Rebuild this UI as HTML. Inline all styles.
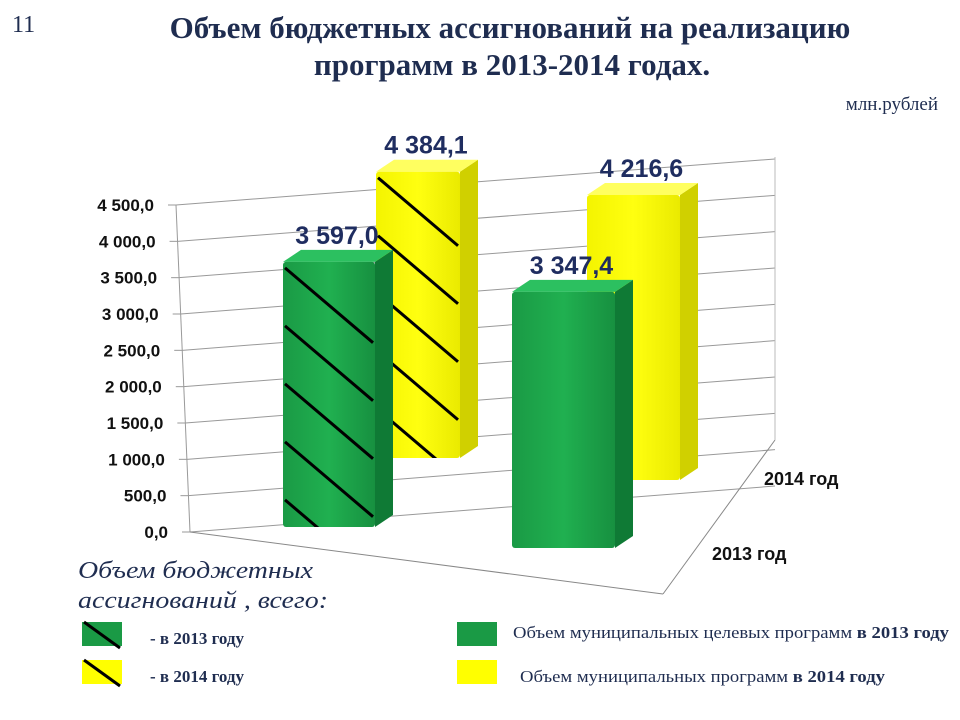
<!DOCTYPE html>
<html><head><meta charset="utf-8"><style>
body{margin:0;background:#fff;width:960px;height:720px;overflow:hidden}
svg{display:block}
.t{font-family:"Liberation Serif",serif}
.s{font-family:"Liberation Sans",sans-serif}
</style></head><body>
<svg width="960" height="720" viewBox="0 0 960 720">
<defs>
<linearGradient id="gG" x1="0" x2="1"><stop offset="0" stop-color="#1a9a45"/><stop offset="0.5" stop-color="#20b050"/><stop offset="1" stop-color="#179040"/></linearGradient>
<linearGradient id="gY" x1="0" x2="1"><stop offset="0" stop-color="#f4f400"/><stop offset="0.5" stop-color="#ffff10"/><stop offset="1" stop-color="#eaea00"/></linearGradient>
</defs>
<text class="t" x="12" y="32" font-size="24" fill="#1f2d50">11</text>
<text class="t" x="510" y="38" font-size="31" font-weight="bold" fill="#1f2d50" text-anchor="middle">Объем бюджетных ассигнований на реализацию</text>
<text class="t" x="512" y="75" font-size="31" font-weight="bold" fill="#1f2d50" text-anchor="middle">программ в 2013-2014 годах.</text>
<text class="t" x="938" y="110" font-size="19" fill="#1f2d50" text-anchor="end">млн.рублей</text>
<g id="grid"></g>
<g id="bars"></g>
<g id="labels"></g>
<text class="s" x="764" y="485" font-size="18" font-weight="bold" fill="#111">2014 год</text>
<text class="s" x="712" y="560" font-size="18" font-weight="bold" fill="#111">2013 год</text>

<text class="t" x="78" y="578" font-size="24" font-style="italic" fill="#1f2d50" textLength="235" lengthAdjust="spacingAndGlyphs">Объем бюджетных</text>
<text class="t" x="78" y="608" font-size="24" font-style="italic" fill="#1f2d50" textLength="250" lengthAdjust="spacingAndGlyphs">ассигнований , всего:</text>
<g>
<rect x="82" y="622" width="40" height="24" fill="#1a9a45"/><line x1="84" y1="622" x2="120" y2="648" stroke="#000" stroke-width="3"/>
<text class="t" x="150" y="644" font-size="17" font-weight="bold" fill="#1f2d50">- в 2013 году</text></g>
<g>
<rect x="82" y="660" width="40" height="24" fill="#ffff00"/><line x1="84" y1="660" x2="120" y2="686" stroke="#000" stroke-width="3"/>
<text class="t" x="150" y="682" font-size="17" font-weight="bold" fill="#1f2d50">- в 2014 году</text></g>
<g>
<rect x="457" y="622" width="40" height="24" fill="#1a9a45"/>
<text class="t" x="513" y="638" font-size="17" fill="#1f2d50" textLength="436" lengthAdjust="spacingAndGlyphs">Объем муниципальных целевых программ <tspan font-weight="bold">в 2013 году</tspan></text></g>
<g>
<rect x="457" y="660" width="40" height="24" fill="#ffff00"/>
<text class="t" x="520" y="682" font-size="17" fill="#1f2d50" textLength="365" lengthAdjust="spacingAndGlyphs">Объем муниципальных программ <tspan font-weight="bold">в 2014 году</tspan></text></g>
</svg>
<script>
const ticks=[0,500,1000,1500,2000,2500,3000,3500,4000,4500];
const tickLabels=["0,0","500,0","1 000,0","1 500,0","2 000,0","2 500,0","3 000,0","3 500,0","4 000,0","4 500,0"];
const seriesNames=["total-2013","total-2014","municipal-2013","municipal-2014"];
const values=[3597.0,4384.1,3347.4,4216.6];
const valueLabels=["3 597,0","4 384,1","3 347,4","4 216,6"];
const NS="http://www.w3.org/2000/svg";
function mk(tag,attrs,parent){const e=document.createElementNS(NS,tag);for(const k in attrs)e.setAttribute(k,attrs[k]);parent.appendChild(e);return e;}
const grid=document.getElementById('grid'),bars=document.getElementById('bars'),labels=document.getElementById('labels');
const yAxis=v=>532-v*(327/4500);
const xAxis=v=>190-v*(14/4500);
ticks.forEach((v,i)=>{
  const y=yAxis(v),x=xAxis(v);
  const l=mk('line',{x1:x,y1:y,x2:775,y2:y-46},grid);
  l.setAttribute('stroke','#999');l.setAttribute('stroke-width','1');
  
  
  mk('line',{x1:x-8,y1:y,x2:x,y2:y,stroke:"#999"},grid);
  const t=mk('text',{x:x-22,y:y+6,'font-size':17,'font-weight':'bold','text-anchor':'end',fill:'#111',class:'s'},grid);
  t.textContent=tickLabels[i];
  
  
});
mk('line',{x1:176,y1:205,x2:190,y2:532,stroke:"#999"},grid);
mk('line',{x1:190,y1:532,x2:663,y2:594,stroke:"#888"},grid);
mk('line',{x1:663,y1:594,x2:775,y2:440,stroke:"#888"},grid);
mk('line',{x1:775,y1:157,x2:775,y2:440,stroke:"#bbb"},grid);
const layout=[[283,527,92,0.0737,'G',true],[376,458,84,0.0653,'Y',true],[512,548,103,0.0765,'G',false],[587,480,93,0.0676,'Y',false]];
const order=[1,3,0,2];
order.forEach(i=>{
  const [x,b,w,s,c,h]=layout[i];
  const top=b-values[i]*s, d=18, u=12;
  const g=mk('g',{},bars);
  
  
  const side=c==='G'?'#0f7a35':'#d0d000', topc=c==='G'?'#2cc060':'#ffff60';
  mk('polygon',{points:`${x+w},${top} ${x+w+d},${top-u} ${x+w+d},${b-u} ${x+w},${b}`,fill:side},g);
  mk('polygon',{points:`${x},${top} ${x+d},${top-u} ${x+w+d},${top-u} ${x+w},${top}`,fill:topc},g);
  mk('rect',{x:x,y:top,width:w,height:b-top,fill:c==='G'?'url(#gG)':'url(#gY)',rx:3},g);
  if(h){
    const cid='clip'+i;const cp=mk('clipPath',{id:cid},g);mk('rect',{x:x,y:top,width:w,height:b-top},cp);
    const hg=mk('g',{'clip-path':`url(#${cid})`},g);
    for(let yy=top+6;yy<b;yy+=58){mk('line',{x1:x+2,y1:yy,x2:x+w-2,y2:yy+(w-4)*0.85,stroke:'#000','stroke-width':3},hg);}
  }
  const t=mk('text',{x:x+w/2+8,y:top-u-6,'font-size':25,'font-weight':'bold','text-anchor':'middle',fill:'#1f2d60',class:'s'},labels);
  t.textContent=valueLabels[i];
  
  
});
</script>
</body></html>
